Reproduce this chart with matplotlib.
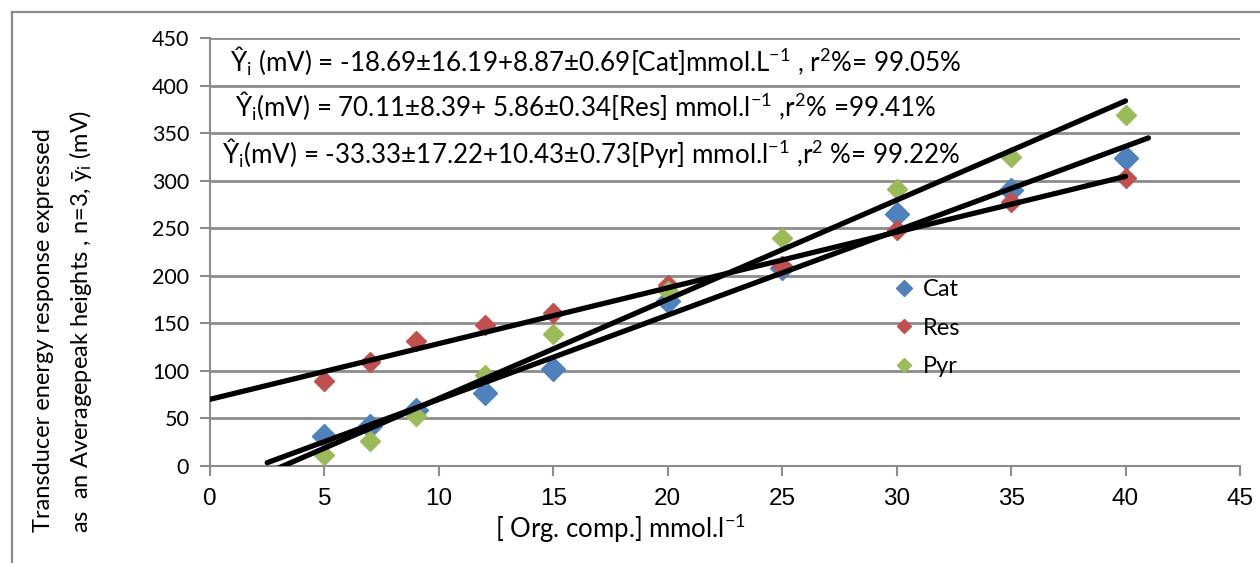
import numpy as np
import matplotlib
matplotlib.use("Agg")
import matplotlib.pyplot as plt
from matplotlib.lines import Line2D

plt.rcParams['font.family'] = ['Lato', 'DejaVu Sans']
plt.rcParams['mathtext.fontset'] = 'custom'
plt.rcParams['mathtext.rm'] = 'Lato'
plt.rcParams['mathtext.it'] = 'Lato'

# concentrations (mmol/l) and mean peak heights (mV)
conc = [5, 7, 9, 12, 15, 20, 25, 30, 35, 40]
cat = [32, 42, 59, 77, 102, 174, 208, 265, 290, 324]
res = [89, 109, 131, 148, 161, 190, 210, 248, 278, 303]
pyr = [12, 26, 53, 96, 139, 184, 240, 291, 325, 369]

# fitted lines: intercept, slope, and the x range the trendline covers
cat_fit = (-18.69, 8.87, 2.5, 41.0)
res_fit = (70.11, 5.86, 0.0, 40.0)
pyr_fit = (-33.33, 10.43, 3.0, 40.0)

eq_cat = "Ŷ$_\\mathrm{i}$ (mV) = -18.69±16.19+8.87±0.69[Cat]mmol.L$^\\mathrm{-1}$ , r$^\\mathrm{2}$%= 99.05%"
eq_res = "Ŷ$_\\mathrm{i}$(mV) = 70.11±8.39+ 5.86±0.34[Res] mmol.l$^\\mathrm{-1}$ ,r$^\\mathrm{2}$% =99.41%"
eq_pyr = "Ŷ$_\\mathrm{i}$(mV) = -33.33±17.22+10.43±0.73[Pyr] mmol.l$^\\mathrm{-1}$ ,r$^\\mathrm{2}$ %= 99.22%"

W, H = 1260, 563
fig = plt.figure(figsize=(W / 100, H / 100), dpi=100)
ax = fig.add_axes([210 / W, 1 - 466 / H, (1240 - 210) / W, (466 - 38) / H])

grey = '#8c8c8c'
ax.set_xlim(0, 45)
ax.set_ylim(0, 450)
ax.set_xticks(np.arange(0, 46, 5))
ax.set_yticks(np.arange(0, 451, 50))
ax.yaxis.grid(True, color=grey, linewidth=2)
ax.set_axisbelow(True)
for s in ['top', 'right']:
    ax.spines[s].set_visible(False)
for s in ['left', 'bottom']:
    ax.spines[s].set_color(grey)
    ax.spines[s].set_linewidth(1.5)
ax.tick_params(axis='both', colors=grey, length=7, width=1.5,
               labelcolor='black')
ax.tick_params(axis='y', pad=8, labelsize=15.5)
ax.tick_params(axis='x', pad=9, labelsize=17.5)
for lbl in ax.get_xticklabels():
    lbl.set_fontfamily('Liberation Sans')

ax.plot(conc, cat, 'D', color='#4F81BD', markersize=12, label='Cat', zorder=3)
ax.plot(conc, res, 'D', color='#C0504D', markersize=10.5, label='Res', zorder=3)
ax.plot(conc, pyr, 'D', color='#9BBB59', markersize=10.5, label='Pyr', zorder=3)

for b0, b1, xa, xb in [cat_fit, res_fit, pyr_fit]:
    xs = np.array([xa, xb])
    ax.plot(xs, b0 + b1 * xs, color='black', linewidth=3.8,
            solid_capstyle='round', zorder=4)

ax.text(0.87, 425, eq_cat, fontsize=18.7, va='center', ha='left')
ax.text(1.09, 378, eq_res, fontsize=18.7, va='center', ha='left')
ax.text(0.52, 329, eq_pyr, fontsize=18.7, va='center', ha='left')

leg = ax.legend(loc='upper left', bbox_to_anchor=(880 / W, 1 - 267 / H),
                bbox_transform=fig.transFigure, frameon=False, fontsize=17,
                handlelength=1.0, handletextpad=0.3, labelspacing=0.75,
                borderpad=0, markerscale=0.7)

fig.text(620 / W, 1 - 529 / H, "[ Org. comp.] mmol.l$^\\mathrm{-1}$",
         fontsize=18.5, ha='center', va='center')

# y axis title in two lines, bottom aligned
fig.text(44 / W, 1 - 532 / H, "Transducer energy response expressed",
         fontsize=17, rotation=90, ha='center', va='bottom')
fig.text(81 / W, 1 - 533 / H,
         "as  an Averagepeak heights , n=3, ȳ$_\\mathrm{i}$ (mV)",
         fontsize=17, rotation=90, ha='center', va='bottom')

# chart area border
fig.add_artist(Line2D([12 / W, 12 / W], [0, 1 - 12 / H], color=grey,
                      linewidth=1.6, transform=fig.transFigure))
fig.add_artist(Line2D([12 / W, 1], [1 - 12 / H, 1 - 12 / H], color=grey,
                      linewidth=1.6, transform=fig.transFigure))

fig.savefig('out.png', dpi=100)
